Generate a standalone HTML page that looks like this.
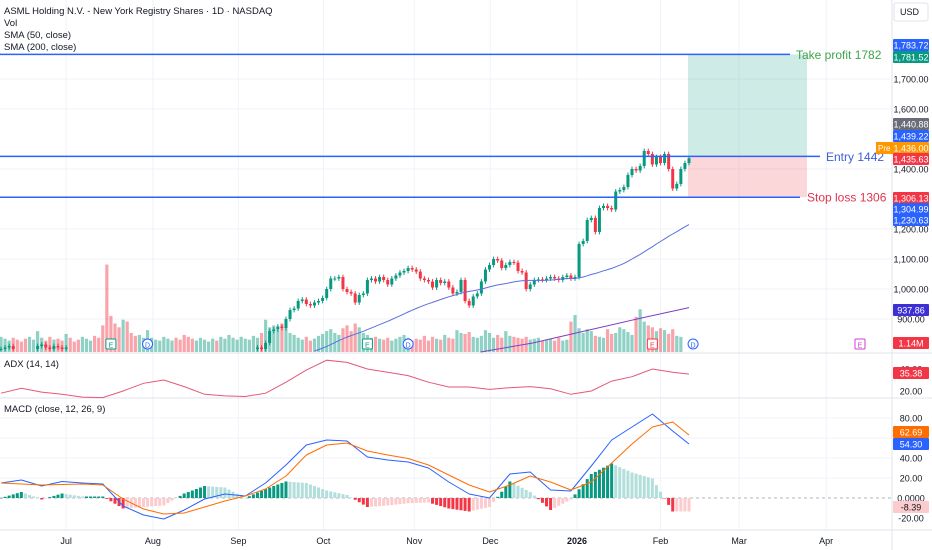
<!DOCTYPE html>
<html><head><meta charset="utf-8"><style>
html,body{margin:0;padding:0;background:#fff;width:932px;height:550px;overflow:hidden}
svg{display:block;font-family:"Liberation Sans",sans-serif}
</style></head><body>
<svg id="c" width="932" height="550" viewBox="0 0 932 550" xmlns="http://www.w3.org/2000/svg">
<rect x="0" y="0" width="932" height="550" fill="#fff"/>
<g id="grid"></g>
<g id="boxes"></g>
<g id="vol"></g>
<g id="price"></g>
<g id="ind"></g>
<g id="over"></g>
<g id="axis"></g>
<g font-size="9.5" fill="#131722">
<text x="4" y="14">ASML Holding N.V. - New York Registry Shares · 1D · NASDAQ</text>
<text x="4" y="26">Vol</text>
<text x="4" y="38">SMA (50, close)</text>
<text x="4" y="50">SMA (200, close)</text>
<text x="4" y="367">ADX (14, 14)</text>
<text x="4" y="412">MACD (close, 12, 26, 9)</text>
</g>
<rect x="894" y="3" width="34" height="18" rx="2" fill="#fff" stroke="#e0e3eb"/>
<text x="900" y="15" font-size="9" fill="#131722">USD</text>
</svg>
<script>
const closes=[800,805,810,800,795,790,785,790,800,810,815,805,800,810,805,800,
805,795,790,785,790,795,800,790,780,760,740,730,725,720,730,720,710,700,705,715,
725,730,735,740,745,750,760,755,750,745,740,735,745,750,755,760,765,760,770,775,780,
780,785,790,790,795,800,805,800,820,860,865,875,870,900,930,935,960,965,950,945,955,960,970,1000,1035,1035,1040,1000,990,985,955,980,985,1030,1035,1025,1040,1030,1015,1035,1045,1055,1060,1070,1065,1058,1035,1030,1025,1005,1030,1020,1025,1005,985,990,1030,960,945,975,985,1025,1065,1080,1100,1095,1070,1080,1090,1088,1060,1055,1000,1015,1030,1032,1030,1035,1040,1035,1030,1040,1045,1035,1040,1150,1160,1230,1237,1190,1270,1277,1270,1265,1325,1330,1340,1380,1400,1395,1410,1460,1450,1415,1440,1420,1450,1400,1335,1350,1400,1420,1436];
const volumes=[1.6,1.4,1.2,1.5,1.3,1.1,1.4,1.6,1.3,2.2,1.5,1.2,1.6,1.3,1.4,1.2,
1.9,1.5,1.1,1.3,1.6,1.4,1.2,1.7,1.5,2.8,9.2,3.8,3.0,2.6,3.4,3.2,2.0,1.7,1.8,1.5,
2.3,1.5,1.3,1.2,1.6,1.4,1.2,1.5,1.3,1.8,1.6,1.4,1.2,1.5,1.3,1.1,1.4,1.2,1.6,1.4,1.8,
1.5,1.3,1.6,1.4,1.3,1.7,1.5,2.0,3.4,2.6,2.8,2.3,3.0,2.5,2.0,1.8,1.5,1.3,1.6,1.2,1.4,1.7,1.9,2.2,2.4,2.0,1.8,2.5,2.8,2.2,3.0,2.6,2.0,1.8,1.5,1.6,1.4,1.3,1.5,1.2,1.4,1.6,1.8,1.5,1.2,1.4,1.3,1.7,1.2,1.6,1.4,1.3,1.8,1.5,1.4,2.3,2.0,1.9,2.1,1.6,1.5,1.7,2.3,2.0,1.5,1.8,1.5,2.2,1.7,1.6,1.5,1.4,1.6,1.3,1.4,1.5,1.2,1.3,1.4,1.2,1.5,1.2,1.3,3.2,3.9,2.5,2.0,2.4,2.2,1.7,1.6,1.5,2.4,1.9,2.0,2.6,2.4,2.1,1.8,3.7,4.5,3.2,2.8,2.6,2.2,2.5,2.3,1.9,2.4,1.7,1.6];
const sma200Vals=[760,790,820,860,900,937.86];
const sma200Start=105;
const adxVals=[18,22.5,19,17,14.5,14,20,27,30,24,17,15.5,15,18,28,39,48,46,40,37,34,28,23.6,23.6,21.5,23,24,22,17,20,29,33,40,37,35.4];
const macdVals=[15,18,12,16.5,15,14,-8,-17,-21,-12,-1,4,2,15,33,53,58,57,41,38,36,30,16,4,0,24,26,8,7,32,58,71,84,67,54];
const signalVals=[15,14,13,13.5,14,13,-1,-11,-16,-15,-9,-3,2,9,22,43,53,55,47,43,39.5,33,23,13,6,13,22,16,8,16,35,54,71,76,63];
const priceTicks=[1700,1600,1400,1200,1100,1000,900];
const adxTicks=[40,20];
const macdTicks=[80,40,20,0,-20];
const monthLabels=["Jul","Aug","Sep","Oct","Nov","Dec","2026","Feb","Mar","Apr"];
const monthIdx=[16,37.3,58.3,79.2,101.5,120.2,141.5,162,181.3,202.7];
const tp=1782, entry=1442, stop=1306;

const NS="http://www.w3.org/2000/svg";
const N=closes.length, X0=1, X1=689, step=(X1-X0)/(N-1);
const xAt=i=>X0+i*step;
const yP=p=>229-(p-1200)*0.3;
const yV=v=>352-v*9.5;
const yA=v=>391-(v-20)*1.1;
const yM=v=>498-v;
function el(tag,attrs,parent){const e=document.createElementNS(NS,tag);for(const k in attrs)e.setAttribute(k,attrs[k]);parent.appendChild(e);return e;}
const G=id=>document.getElementById(id);

const grid=G('grid');
priceTicks.forEach(p=>{el('line',{x1:0,x2:892,y1:yP(p),y2:yP(p),stroke:'#f0f3fa'},grid);});
monthIdx.forEach(i=>{el('line',{x1:xAt(i),x2:xAt(i),y1:0,y2:530,stroke:'#f0f3fa'},grid);});
[80,60,40,20].forEach(v=>el('line',{x1:0,x2:892,y1:yM(v),y2:yM(v),stroke:'#f0f3fa'},grid));
el('line',{x1:0,x2:932,y1:353,y2:353,stroke:'#e0e3eb'},grid);
el('line',{x1:0,x2:932,y1:398,y2:398,stroke:'#e0e3eb'},grid);
el('line',{x1:0,x2:932,y1:530,y2:530,stroke:'#e0e3eb'},grid);
el('line',{x1:892,x2:892,y1:0,y2:550,stroke:'#e0e3eb'},grid);

const bx=G('boxes');
let r=el('rect',{x:688,y:yP(tp),width:119,height:yP(entry)-yP(tp),fill:'rgba(8,153,129,0.2)'},bx);

r=el('rect',{x:688,y:yP(entry),width:119,height:yP(stop)-yP(entry),fill:'rgba(242,54,69,0.2)'},bx);


const vg=G('vol');
closes.forEach((c,i)=>{const up=i==0||c>=closes[i-1];const y=yV(volumes[i]);
 const b=el('rect',{x:xAt(i)-1.6,y:y,width:3.2,height:352-y,fill:up?'rgba(8,153,129,0.45)':'rgba(242,54,69,0.45)'},vg);
 
 });

const pg=G('price');
closes.forEach((c,i)=>{const o=i==0?c:closes[i-1];const up=c>=o;const col=up?'#089981':'#f23645';
 const hi=Math.max(o,c)+8, lo=Math.min(o,c)-8;
 if(yP(lo)>352)return;
 const g=el('g',{},pg);
 
 
 el('line',{x1:xAt(i),x2:xAt(i),y1:yP(hi),y2:Math.min(352,yP(lo)),stroke:col,'stroke-width':1},g);
 const yt=yP(Math.max(o,c)), yb=Math.min(352,yP(Math.min(o,c)));
 el('rect',{x:xAt(i)-1.5,y:yt,width:3,height:Math.max(1,yb-yt),fill:col},g);});
let pts=[];for(let i=49;i<N;i++){let s=0;for(let j=i-49;j<=i;j++)s+=closes[j];const y=yP(s/50);if(y<=352)pts.push(xAt(i).toFixed(1)+','+y.toFixed(1));}
let pl=el('polyline',{points:pts.join(' '),fill:'none',stroke:'#5b6ee1','stroke-width':1},pg);

pts=[];sma200Vals.forEach((v,k)=>{const y=yP(v);if(y<=353)pts.push(xAt(sma200Start+k*(N-1-sma200Start)/(sma200Vals.length-1)).toFixed(1)+','+y.toFixed(1));});
pl=el('polyline',{points:pts.join(' '),fill:'none',stroke:'#7e3fbf','stroke-width':1},pg);


const ig=G('ind');
const sx=k=>xAt(Math.min(5*k,N-1));
pts=adxVals.map((v,k)=>sx(k).toFixed(1)+','+Math.min(398,yA(v)).toFixed(1));
pl=el('polyline',{points:pts.join(' '),fill:'none',stroke:'#e5577a','stroke-width':1},ig);

el('line',{x1:0,x2:892,y1:yM(0),y2:yM(0),stroke:'#b2b5be','stroke-dasharray':'3,3'},ig);
function interp(arr,i){const k=i/5;const lastK=arr.length-1;let k0=Math.min(Math.floor(k),lastK-1);
 const i0=Math.min(5*k0,N-1),i1=Math.min(5*(k0+1),N-1);const t=i1==i0?0:(i-i0)/(i1-i0);return arr[k0]+(arr[k0+1]-arr[k0])*t;}
let prevH=0;
for(let i=0;i<N;i++){const h=(interp(macdVals,i)-interp(signalVals,i))*1.5;
 const col=h>=0?(h>=prevH?'#089981':'#b2dfdb'):(h<prevH?'#f23645':'#fccbcd');
 const y=Math.min(yM(0),yM(h)),hh=Math.abs(h);
 const b=el('rect',{x:xAt(i)-1.5,y:y,width:3,height:Math.max(0.5,hh),fill:col},ig);
 
 
 prevH=h;}
pts=macdVals.map((v,k)=>sx(k).toFixed(1)+','+yM(v).toFixed(1));
pl=el('polyline',{points:pts.join(' '),fill:'none',stroke:'#2962ff','stroke-width':1,'stroke-linejoin':'round'},ig);

pts=signalVals.map((v,k)=>sx(k).toFixed(1)+','+yM(v).toFixed(1));
pl=el('polyline',{points:pts.join(' '),fill:'none',stroke:'#ff6d00','stroke-width':1,'stroke-linejoin':'round'},ig);


const ov=G('over');
function level(p,x2,txt,col,tx,name){const l=el('line',{x1:0,x2:x2,y1:yP(p),y2:yP(p),stroke:'#2962ff','stroke-width':1.5},ov);
 
 const t=el('text',{x:tx,y:yP(p)+4.5,'font-size':12,fill:col},ov);t.textContent=txt;
 }
level(tp,790,'Take profit 1782','#3fa34d',796,'take-profit');
level(entry,820,'Entry 1442','#3d5ed8',826,'entry');
level(stop,800,'Stop loss 1306','#e0344d',807,'stop-loss');
[[27,'E','#089981'],[36,'D','#2962ff'],[90,'E','#089981'],[100,'D','#2962ff'],[160,'E','#f23645'],[170,'D','#2962ff'],[211,'E','#d03fd5']].forEach(m=>{
 const g=el('g',{},ov);
 
 
 const x=xAt(m[0]);
 if(m[1]=='D')el('circle',{cx:x,cy:344,r:5,fill:'#fff',stroke:m[2]},g);
 else el('rect',{x:x-5,y:339,width:10,height:10,rx:1,fill:'#fff',stroke:m[2]},g);
 const t=el('text',{x:x,y:347.5,'font-size':7,'text-anchor':'middle',fill:m[2]},g);t.textContent=m[1];});

const ax=G('axis');
function lab(y,txt,bg,fg,name){if(bg){const b=el('rect',{x:893,y:y-6,width:36,height:12,rx:1,fill:bg},ax);
 }
 const t=el('text',{x:911,y:y+3.5,'font-size':9,'text-anchor':'middle',fill:fg||'#131722'},ax);t.textContent=txt;
 }
priceTicks.forEach(p=>lab(yP(p),p.toLocaleString('en-US',{minimumFractionDigits:2}),null,null,'price-tick'));
adxTicks.forEach(v=>lab(yA(v),v.toFixed(2),null,null,'adx-tick'));
macdTicks.forEach(v=>lab(yM(v),v==0?'0.0000':v.toFixed(2),null,null,'macd-tick'));
lab(45,'1,783.72','#2962ff','#fff','high-badge');
lab(57,'1,781.52','#089981','#fff','tp-badge');
lab(124,'1,440.88','#6a6d78','#fff','badge');
lab(136,'1,439.22','#2962ff','#fff','badge');
lab(148,'1,436.00','#ff9800','#fff','pre-badge');
const pre=el('rect',{x:876,y:142,width:17,height:12,fill:'#ff9800'},ax);

let tt=el('text',{x:878,y:151,'font-size':8,fill:'#fff'},ax);tt.textContent='Pre';
lab(159,'1,435.63','#f23645','#fff','last-price-badge');
lab(198,'1,306.13','#f23645','#fff','sl-badge');
lab(209,'1,304.99','#2962ff','#fff','badge');
lab(220,'1,230.63','#2962ff','#fff','sma50-badge');
lab(310,'937.86','#3d2fd6','#fff','sma200-badge');
lab(343,'1.14M','#f23645','#fff','volume-badge');
lab(373,'35.38','#f23645','#fff','adx-badge');
lab(432,'62.69','#ff6d00','#fff','signal-badge');
lab(444,'54.30','#2962ff','#fff','macd-badge');
lab(507,'-8.39','#fccbcd','#131722','hist-badge');
monthLabels.forEach((m,k)=>{const t=el('text',{x:xAt(monthIdx[k]),y:544,'font-size':9,'text-anchor':'middle',fill:'#131722','font-weight':m=='2026'?'bold':'normal'},ax);t.textContent=m;
 });
</script>
</body></html>
